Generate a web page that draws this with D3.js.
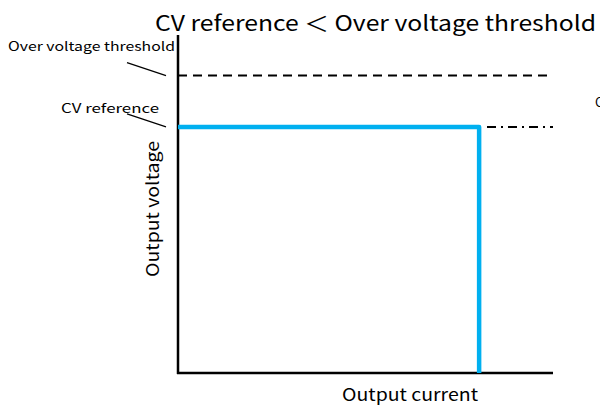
<!DOCTYPE html>
<html>
<head>
<meta charset="utf-8">
<script src="https://cdn.jsdelivr.net/npm/d3@7"></script>
<style>
  body { margin: 0; background: #fff; }
  svg { display: block; }
  text { font-family: "Noto Sans CJK JP", "DejaVu Sans", sans-serif; fill: #000; }
</style>
</head>
<body>
<svg width="600" height="405"></svg>
<script>
// normalised levels (axis 0..1)
const levelNames = ['Over voltage threshold', 'CV reference'];
const levelValues = [0.88, 0.728];
const cvPoints = [[0, 0.728], [0.803, 0.728], [0.803, 0]];
const extendFrom = [0.824, 1.0];
const axisLabels = ['Output current', 'Output voltage'];
const title = 'CV reference ＜ Over voltage threshold';

const svg = d3.select('svg');
const x = d3.scaleLinear().domain([0, 1]).range([178, 553]);
const y = d3.scaleLinear().domain([0, 1]).range([373, 35]);

// axes drawn as plain lines
svg.append('line')
    .attr('x1', x(0)).attr('x2', x(0))
    .attr('y1', y(1)).attr('y2', y(0) + 1)
    .attr('stroke', '#000').attr('stroke-width', 2.5);
svg.append('line')
    .attr('x1', x(0) - 1).attr('x2', x(1))
    .attr('y1', y(0)).attr('y2', y(0))
    .attr('stroke', '#000').attr('stroke-width', 2.5);

// over voltage threshold, dashed
svg.append('line')
    .attr('x1', x(0)).attr('x2', x(1))
    .attr('y1', y(levelValues[0])).attr('y2', y(levelValues[0]))
    .attr('stroke', '#000').attr('stroke-width', 2)
    .attr('stroke-dasharray', '9,6');

// dash-dot continuation of CV reference
svg.append('line')
    .attr('x1', x(extendFrom[0])).attr('x2', x(extendFrom[1]))
    .attr('y1', y(levelValues[1])).attr('y2', y(levelValues[1]))
    .attr('stroke', '#000').attr('stroke-width', 2)
    .attr('stroke-dasharray', '9,5,2,5');

// CV / CC characteristic
const line = d3.line().x(d => x(d[0])).y(d => y(d[1]));
svg.append('path')
    .attr('d', line(cvPoints))
    .attr('fill', 'none')
    .attr('stroke', '#00B0F0')
    .attr('stroke-width', 4.5)
    .attr('stroke-linejoin', 'round');

// level labels with leader lines
const labelPos = [{ tx: 8, ty: 51, w: 167 }, { tx: 61, ty: 113, w: 98 }];
levelNames.forEach((name, i) => {
    const p = labelPos[i];
    svg.append('text')
        .attr('x', p.tx).attr('y', p.ty)
        .attr('font-size', 12.5)
        .attr('textLength', p.w).attr('lengthAdjust', 'spacingAndGlyphs')
        .text(name);
    svg.append('line')
        .attr('x1', 127).attr('y1', y(levelValues[i]) - 13)
        .attr('x2', 166).attr('y2', y(levelValues[i]))
        .attr('stroke', '#000').attr('stroke-width', 1.2);
});

// label clipped by the right edge, as in the source
svg.append('text')
    .attr('x', 595).attr('y', 107)
    .attr('font-size', 13)
    .text('CV');

// title
svg.append('text')
    .attr('x', 155).attr('y', 31)
    .attr('font-size', 21)
    .attr('textLength', 441).attr('lengthAdjust', 'spacingAndGlyphs')
    .text(title);

// axis titles
svg.append('text')
    .attr('x', 410).attr('y', 401)
    .attr('text-anchor', 'middle')
    .attr('font-size', 17)
    .attr('textLength', 136).attr('lengthAdjust', 'spacingAndGlyphs')
    .text(axisLabels[0]);
svg.append('text')
    .attr('transform', 'translate(159,209) rotate(-90)')
    .attr('text-anchor', 'middle')
    .attr('font-size', 17)
    .attr('textLength', 136).attr('lengthAdjust', 'spacingAndGlyphs')
    .text(axisLabels[1]);
</script>
</body>
</html>
